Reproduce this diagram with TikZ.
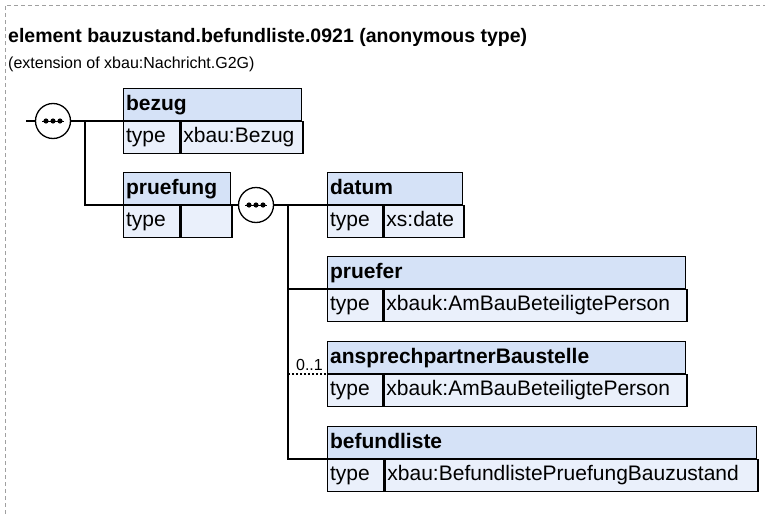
\documentclass[tikz,border=0pt]{standalone}
\usepackage{fontspec}
\setmainfont{Liberation Sans}
\usepackage{xcolor}
\usepackage{tikz}
\usetikzlibrary{positioning}
\definecolor{hdrfill}{RGB}{213,226,247}
\definecolor{rowfill}{RGB}{234,240,251}
\definecolor{frame}{RGB}{160,160,160}

\begin{document}
\begin{tikzpicture}[
    x=1pt, y=-1pt,
    font=\fontsize{21}{25}\selectfont,
    hdr/.style={draw, fill=hdrfill, line width=1.3pt, anchor=south west, inner xsep=2.5pt, inner ysep=0pt, minimum height=32pt, text width=#1, align=left, text height=16pt, text depth=3pt, font=\fontsize{21}{25}\selectfont\bfseries},
    cell/.style={draw, fill=rowfill, line width=1.3pt, anchor=north west, inner xsep=2.5pt, inner ysep=0pt, minimum height=32pt, text width=#1, align=left, text height=14pt, text depth=5pt},
    seq/.style={circle, draw, fill=white, line width=1.3pt, minimum size=35pt, inner sep=0pt,
        path picture={
            \draw[black, line width=1pt] ([xshift=-11pt]path picture bounding box.center) -- ([xshift=11pt]path picture bounding box.center);
            \foreach \dx in {-7,0,7} \fill[black] ([xshift=\dx pt]path picture bounding box.center) circle (2.6pt);
        }},
    line/.style={line width=1.3pt},
    opt/.style={line width=1.3pt, dash pattern=on 2pt off 2pt}
]
\useasboundingbox (0,0) rectangle (765,514);
\draw[frame, line width=0.9pt, dash pattern=on 4pt off 3pt] (5,514) -- (5,5) -- (765,5);

\node[anchor=base west, inner sep=0pt, font=\fontsize{19.5}{23}\selectfont\bfseries] (title) at (8,42) {element bauzustand.befundliste.0921 (anonymous type)};
\node[anchor=base west, inner sep=0pt, font=\fontsize{16}{19}\selectfont] (subtitle) at (8,68) {(extension of xbau:Nachricht.G2G)};

\node[hdr=173pt] (bezug) at (123,121) {bezug};
\node[cell=51pt] (bezugK) at (bezug.south west) {type};
\node[cell=117pt] (bezugV) at (bezugK.north east) {xbau:Bezug};

\node[hdr=102pt] (pruefung) at (123,205) {pruefung};
\node[cell=51pt] (pruefungK) at (pruefung.south west) {type};
\node[cell=46pt] (pruefungV) at (pruefungK.north east) {};

\node[hdr=130pt] (datum) at (327,205) {datum};
\node[cell=50pt] (datumK) at (datum.south west) {type};
\node[cell=75pt] (datumV) at (datumK.north east) {xs:date};

\node[hdr=353pt] (pruefer) at (327,289) {pruefer};
\node[cell=50pt] (prueferK) at (pruefer.south west) {type};
\node[cell=298pt] (prueferV) at (prueferK.north east) {xbauk:AmBauBeteiligtePerson};

\node[hdr=353pt] (ansprech) at (327,374) {ansprechpartnerBaustelle};
\node[cell=50pt] (ansprechK) at (ansprech.south west) {type};
\node[cell=298pt] (ansprechV) at (ansprechK.north east) {xbauk:AmBauBeteiligtePerson};

\node[hdr=424pt] (befund) at (327,459) {befundliste};
\node[cell=51pt] (befundK) at (befund.south west) {type};
\node[cell=368pt] (befundV) at (befundK.north east) {xbau:BefundlistePruefungBauzustand};

\node[seq] (seqA) at (53,121) {};
\node[seq] (seqB) at (256,205) {};
\coordinate (inA) at (26,121);
\coordinate (forkA) at (85,121);
\coordinate (forkB) at (288,205);

\draw[line] (inA) -- (seqA.west);
\draw[line] (seqA.east) -- (bezug.south west);
\draw[line] (forkA) |- (pruefung.south west);
\draw[line] (pruefung.south east) -- (seqB.west);
\draw[line] (seqB.east) -- (datum.south west);
\draw[line] (forkB) |- (pruefer.south west);
\draw[line] (forkB) |- (befund.south west);
\draw[opt] (forkB |- ansprech.south west) -- node[pos=0.55, anchor=base, yshift=4pt, inner sep=0pt, font=\fontsize{16}{19}\selectfont] (occ) {0..1} (ansprech.south west);
\end{tikzpicture}
\end{document}
